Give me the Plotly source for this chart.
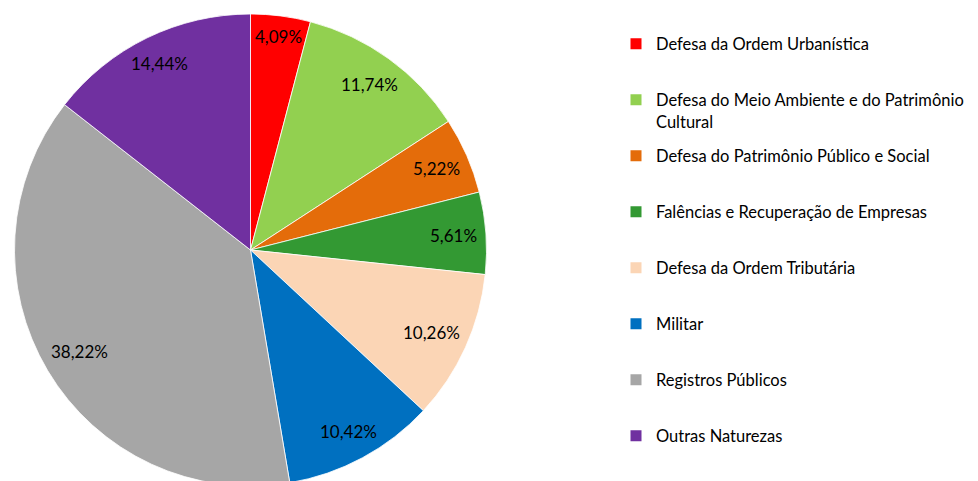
import math
import plotly.graph_objects as go

categories = [
    "Defesa da Ordem Urbanística",
    "Defesa do Meio Ambiente e do Patrimônio<br>Cultural",
    "Defesa do Patrimônio Público e Social",
    "Falências e Recuperação de Empresas",
    "Defesa da Ordem Tributária",
    "Militar",
    "Registros Públicos",
    "Outras Naturezas",
]
values = [4.09, 11.74, 5.22, 5.61, 10.26, 10.42, 38.22, 14.44]
value_labels = ["4,09%", "11,74%", "5,22%", "5,61%", "10,26%", "10,42%", "38,22%", "14,44%"]
colors = ["#FF0000", "#92D050", "#E46C0A", "#339933", "#FBD5B5", "#0070C0", "#A6A6A6", "#7030A0"]

W, H = 978, 481
OFF = 8  # page body margin
FONT = "Lato"
cx, R = 250.5 - OFF, 236.0
top = 14 - OFF
cy = top + R

fig = go.Figure()
fig.add_trace(go.Pie(
    labels=categories,
    values=values,
    sort=False,
    direction="clockwise",
    rotation=0,
    marker=dict(colors=colors, line=dict(color="white", width=0.8)),
    textinfo="none",
    hoverinfo="label+percent",
    showlegend=False,
    domain=dict(x=[(cx - R) / W, (cx + R) / W],
                y=[1 - (top + 2 * R) / H, 1 - top / H]),
))

# data labels placed "inside end" of each slice
total = sum(values)
cum = 0.0
for v, t in zip(values, value_labels):
    mid = (cum + v / 2) / total
    cum += v
    th = 2 * math.pi * mid
    half_w = len(t) * 9.2 / 2
    half_h = 9.0
    r = 0.963 * R - (abs(math.sin(th)) * half_w + abs(math.cos(th)) * half_h)
    px = cx + r * math.sin(th)
    py = cy - r * math.cos(th)
    fig.add_annotation(x=px / W, y=1 - py / H, xref="paper", yref="paper",
                       text=t, showarrow=False, xanchor="center", yanchor="middle",
                       font=dict(family=FONT, size=17, color="#000000"))

# legend: one dummy marker trace per category, each in its own legend box
legend_y = [44, 100, 156, 212, 268, 324, 380, 436]
for i, (c, col) in enumerate(zip(categories, colors)):
    lname = "legend" if i == 0 else f"legend{i+1}"
    fig.add_trace(go.Scatter(x=[None], y=[None], mode="markers", name=c,
                             marker=dict(symbol="square", size=11, color=col),
                             legend=lname, showlegend=True, hoverinfo="skip"))
    yc = legend_y[i] - OFF + (10.5 if "<br>" in c else 0)
    fig.update_layout(**{lname: dict(
        x=(658 - 40 - 2 - OFF) / W, xanchor="left", y=1 - yc / H, yanchor="middle",
        font=dict(family=FONT, size=16.5, color="#000000"),
        bgcolor="rgba(0,0,0,0)", borderwidth=0, valign="top", itemwidth=30)})

fig.update_layout(
    width=W, height=H,
    margin=dict(l=0, r=0, t=0, b=0),
    paper_bgcolor="white", plot_bgcolor="white",
    xaxis=dict(visible=False), yaxis=dict(visible=False),
    font=dict(family=FONT),
)

fig.write_html("out.html")
